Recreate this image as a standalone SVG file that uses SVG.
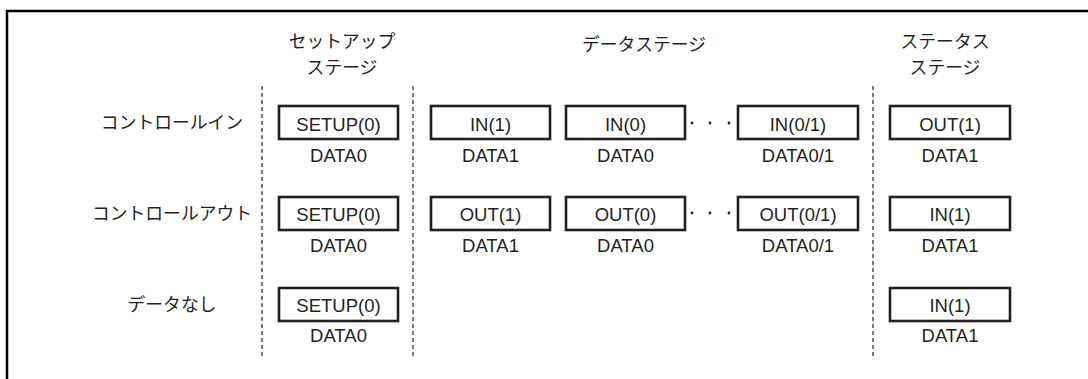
<svg xmlns="http://www.w3.org/2000/svg" width="1088" height="379" viewBox="0 0 1088 379">
<style>
.frame{stroke:#000;stroke-width:2.5;fill:none}
.div{stroke:#333;stroke-width:1.3;stroke-dasharray:4 3;fill:none}
.box{fill:#fff;stroke:#231f20;stroke-width:2.6}
.lbl{font-family:"Liberation Sans",Arial,sans-serif;font-size:18.5px;fill:#231f20;text-anchor:middle}
.jp{font-family:"Noto Sans CJK JP","Noto Sans",sans-serif;font-size:17.8px;fill:#231f20;text-anchor:middle}
.dot{fill:#231f20}
</style>
<rect width="1088" height="379" fill="#fff"/>
<g id="frame">
<path class="frame" d="M7 379V11H1088"/>
</g>
<g id="headers">
<text class="jp" x="342" y="48">セットアップ<tspan x="342" dy="26">ステージ</tspan></text>
<text class="jp" x="644" y="51">データステージ</text>
<text class="jp" x="945" y="48">ステータス<tspan x="945" dy="26">ステージ</tspan></text>
</g>
<g id="row-labels">
<text class="jp" x="172" y="129">コントロールイン</text>
<text class="jp" x="172" y="220">コントロールアウト</text>
<text class="jp" x="172" y="311">データなし</text>
</g>
<g id="dividers">
<line class="div" x1="262" y1="86" x2="262" y2="356"/>
<line class="div" x1="413" y1="86" x2="413" y2="356"/>
<line class="div" x1="873" y1="86" x2="873" y2="356"/>
</g>
<g id="connectors">
<circle class="dot" cx="692" cy="123" r="1.4"/>
<circle class="dot" cx="710" cy="123" r="1.4"/>
<circle class="dot" cx="729" cy="123" r="1.4"/>
<circle class="dot" cx="692" cy="213" r="1.4"/>
<circle class="dot" cx="710" cy="213" r="1.4"/>
<circle class="dot" cx="729" cy="213" r="1.4"/>
</g>
<g id="r1-setup"><rect class="box" x="279" y="106" width="119" height="33"/><text class="lbl" x="338.5" y="131">SETUP(0)</text><text class="lbl" x="338.5" y="162">DATA0</text></g>
<g id="r1-in1"><rect class="box" x="431" y="106" width="119" height="33"/><text class="lbl" x="490.5" y="131">IN(1)</text><text class="lbl" x="490.5" y="162">DATA1</text></g>
<g id="r1-in0"><rect class="box" x="566" y="106" width="119" height="33"/><text class="lbl" x="625.5" y="131">IN(0)</text><text class="lbl" x="625.5" y="162">DATA0</text></g>
<g id="r1-in01"><rect class="box" x="738" y="106" width="120" height="33"/><text class="lbl" x="798" y="131">IN(0/1)</text><text class="lbl" x="798" y="162">DATA0/1</text></g>
<g id="r1-status"><rect class="box" x="890" y="106" width="120" height="33"/><text class="lbl" x="950" y="131">OUT(1)</text><text class="lbl" x="950" y="162">DATA1</text></g>
<g id="r2-setup"><rect class="box" x="279" y="197" width="119" height="33"/><text class="lbl" x="338.5" y="221">SETUP(0)</text><text class="lbl" x="338.5" y="252">DATA0</text></g>
<g id="r2-out1"><rect class="box" x="431" y="197" width="119" height="33"/><text class="lbl" x="490.5" y="221">OUT(1)</text><text class="lbl" x="490.5" y="252">DATA1</text></g>
<g id="r2-out0"><rect class="box" x="566" y="197" width="119" height="33"/><text class="lbl" x="625.5" y="221">OUT(0)</text><text class="lbl" x="625.5" y="252">DATA0</text></g>
<g id="r2-out01"><rect class="box" x="738" y="197" width="120" height="33"/><text class="lbl" x="798" y="221">OUT(0/1)</text><text class="lbl" x="798" y="252">DATA0/1</text></g>
<g id="r2-status"><rect class="box" x="890" y="197" width="120" height="33"/><text class="lbl" x="950" y="221">IN(1)</text><text class="lbl" x="950" y="252">DATA1</text></g>
<g id="r3-setup"><rect class="box" x="279" y="288" width="119" height="33"/><text class="lbl" x="338.5" y="312">SETUP(0)</text><text class="lbl" x="338.5" y="342">DATA0</text></g>
<g id="r3-status"><rect class="box" x="890" y="288" width="120" height="33"/><text class="lbl" x="950" y="312">IN(1)</text><text class="lbl" x="950" y="342">DATA1</text></g>
</svg>
